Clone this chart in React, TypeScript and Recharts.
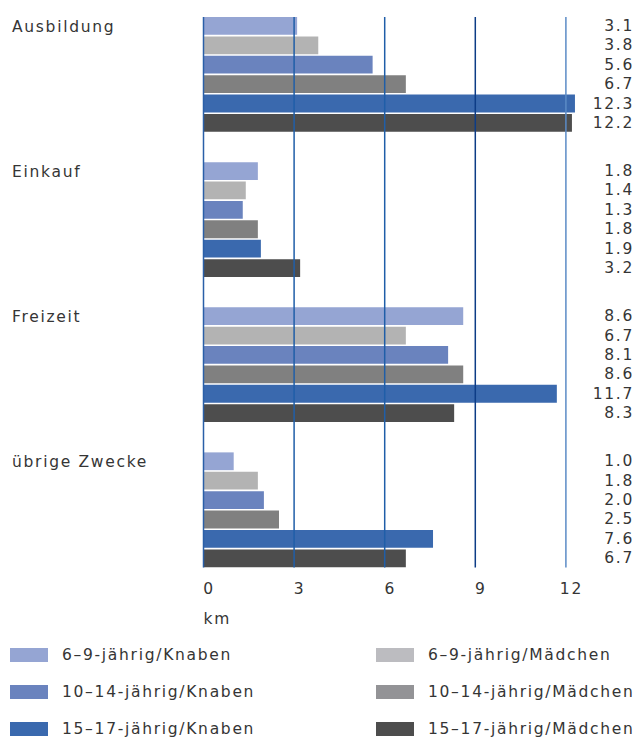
import React from 'react';
import { BarChart, Bar, XAxis, YAxis, ReferenceLine, LabelList } from 'recharts';

const categories = ['Ausbildung', 'Einkauf', 'Freizeit', 'übrige Zwecke'];
const knaben69 = [3.1, 1.8, 8.6, 1.0];
const maedchen69 = [3.8, 1.4, 6.7, 1.8];
const knaben1014 = [5.6, 1.3, 8.1, 2.0];
const maedchen1014 = [6.7, 1.8, 8.6, 2.5];
const knaben1517 = [12.3, 1.9, 11.7, 7.6];
const maedchen1517 = [12.2, 3.2, 8.3, 6.7];
const xTicks = [0, 3, 6, 9, 12];

const seriesNames = [
  '6–9-jährig/Knaben',
  '6–9-jährig/Mädchen',
  '10–14-jährig/Knaben',
  '10–14-jährig/Mädchen',
  '15–17-jährig/Knaben',
  '15–17-jährig/Mädchen',
];
const seriesValues = [knaben69, maedchen69, knaben1014, maedchen1014, knaben1517, maedchen1517];
const seriesKeys = ['k69', 'm69', 'k1014', 'm1014', 'k1517', 'm1517'];
const seriesColors = ['#95a5d3', '#b3b3b3', '#6a83be', '#808080', '#3a69ae', '#4d4d4d'];
const legendColors = ['#95a5d3', '#bcbcc0', '#6a83be', '#939396', '#3a69ae', '#4d4d4d'];
const gridColors = ['#2a5fa8', '#1f5ea8', '#1f5ea8', '#0d3c86', '#5b8bc6'];

const data = categories.map((name, i) => {
  const row: Record<string, any> = { name };
  seriesKeys.forEach((k, s) => {
    row[k] = seriesValues[s][i];
  });
  return row;
});

const FONT = '"DejaVu Sans", sans-serif';
const TEXT = '#353535';
const FS = 15.5;
const LS = 1.7;
const BAR_SIZE = 17.8;
const BAR_GAP = 1.6;
const INSET = 15;
const VALUE_X = 634;
const LABEL_X = 12;

const CategoryTick = (props: any) => {
  const { y, payload } = props;
  return (
    <text x={LABEL_X} y={y - 43} fill={TEXT} fontFamily={FONT} fontSize={FS} letterSpacing={LS} textAnchor="start">
      {payload.value}
    </text>
  );
};

const XTick = (props: any) => {
  const { x, y, payload } = props;
  return (
    <text x={x + 5.5} y={y + 11.5} fill={TEXT} fontFamily={FONT} fontSize={FS} letterSpacing={LS} textAnchor="middle">
      {payload.value}
    </text>
  );
};

const ValueLabel = (props: any) => {
  const { y, height, value } = props;
  return (
    <text
      x={VALUE_X}
      y={y + height / 2}
      fill={TEXT}
      fontFamily={FONT}
      fontSize={FS}
      letterSpacing={LS}
      textAnchor="end"
      dominantBaseline="central"
    >
      {Number(value).toFixed(1)}
    </text>
  );
};

const gridShape = (color: string) => (p: any) => (
  <line x1={p.x1} x2={p.x2} y1={Math.min(p.y1, p.y2) + INSET} y2={Math.max(p.y1, p.y2) - INSET} stroke={color} strokeWidth={1.5} />
);

export default function App() {
  return (
    <div style={{ position: 'absolute', left: 0, top: 0, width: 635, height: 738, background: '#fff', fontFamily: FONT }}>
      <BarChart
        width={635}
        height={738}
        data={data}
        layout="vertical"
        margin={{ top: 2, right: 54, left: 0, bottom: 125.5 }}
        barSize={BAR_SIZE}
        barGap={BAR_GAP}
      >
        <XAxis
          type="number"
          domain={[0, 12.5]}
          ticks={xTicks}
          axisLine={false}
          tickLine={false}
          tickSize={0}
          tickMargin={0}
          height={30}
          tick={<XTick />}
          interval={0}
          label={{
            content: (lp: any) => (
              <text
                x={lp.viewBox.x}
                y={lp.viewBox.y + 41}
                fill={TEXT}
                fontFamily={FONT}
                fontSize={FS}
                letterSpacing={LS}
              >
                km
              </text>
            ),
          }}
        />
        <YAxis
          type="category"
          dataKey="name"
          width={203.5}
          axisLine={false}
          tickLine={false}
          tick={<CategoryTick />}
          interval={0}
        />
        {seriesKeys.map((k, s) => (
          <Bar key={k} dataKey={k} name={seriesNames[s]} fill={seriesColors[s]} isAnimationActive={false}>
            <LabelList dataKey={k} content={<ValueLabel />} />
          </Bar>
        ))}
        {xTicks.map((t, i) => (
          <ReferenceLine key={t} x={t} stroke={gridColors[i]} shape={gridShape(gridColors[i])} />
        ))}
      </BarChart>
      {seriesNames.map((n, s) => {
        const col = s % 2;
        const row = Math.floor(s / 2);
        const left = col === 0 ? 10 : 376;
        const top = 648 + row * 37;
        return (
          <div key={n} style={{ position: 'absolute', left, top, height: 14, display: 'flex', alignItems: 'center' }}>
            <div style={{ width: 38, height: 14, background: legendColors[s] }} />
            <div
              style={{
                marginLeft: 14,
                fontSize: FS,
                letterSpacing: LS,
                color: TEXT,
                whiteSpace: 'nowrap',
                lineHeight: '14px',
                fontFamily: FONT,
              }}
            >
              {n}
            </div>
          </div>
        );
      })}
    </div>
  );
}
